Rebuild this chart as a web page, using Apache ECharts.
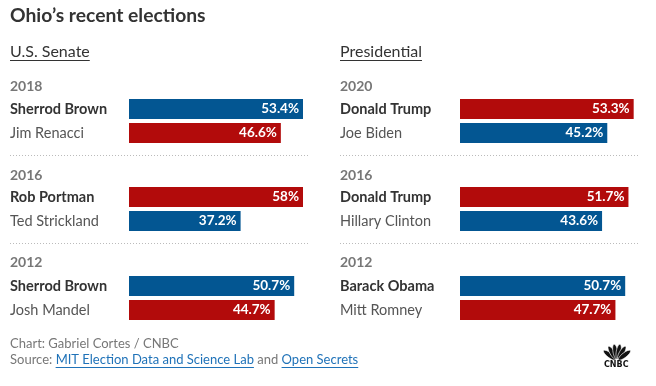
<!DOCTYPE html>
<html>
<head>
<meta charset="utf-8">
<script src="https://cdn.jsdelivr.net/npm/echarts@6/dist/echarts.min.js"></script>
<style>html,body{margin:0;padding:0;background:#fff;}#c{width:656px;height:386px;}</style>
</head>
<body>
<div id="c"></div>
<script>
const senateYears = ['2018', '2016', '2012'];
const senateWinners = ['Sherrod Brown', 'Rob Portman', 'Sherrod Brown'];
const senateWinnerPct = [53.4, 58, 50.7];
const senateWinnerParty = ['D', 'R', 'D'];
const senateLosers = ['Jim Renacci', 'Ted Strickland', 'Josh Mandel'];
const senateLoserPct = [46.6, 37.2, 44.7];

const presYears = ['2020', '2016', '2012'];
const presWinners = ['Donald Trump', 'Donald Trump', 'Barack Obama'];
const presWinnerPct = [53.3, 51.7, 50.7];
const presWinnerParty = ['R', 'R', 'D'];
const presLosers = ['Joe Biden', 'Hillary Clinton', 'Mitt Romney'];
const presLoserPct = [45.2, 43.6, 47.7];

const FONT = 'Lato, "Noto Sans", sans-serif';
const BLUE = '#035692';
const RED = '#b20b0b';
const partyColor = p => (p === 'D' ? BLUE : RED);
const other = p => (p === 'D' ? 'R' : 'D');

const chart = echarts.init(document.getElementById('c'), null, {renderer: 'canvas'});

const grids = [], xAxes = [], yAxes = [], series = [], graphics = [];
const rowTops = [97, 185, 274];
const yearY = [87, 176, 263];
const panels = [
  {left: 129, textX: 10, years: senateYears, w: senateWinners, wp: senateWinnerPct, party: senateWinnerParty, l: senateLosers, lp: senateLoserPct},
  {left: 460, textX: 340, years: presYears, w: presWinners, wp: presWinnerPct, party: presWinnerParty, l: presLosers, lp: presLoserPct}
];

panels.forEach((p) => {
  p.years.forEach((yr, i) => {
    const idx = grids.length;
    grids.push({left: p.left, top: rowTops[i], width: 174, height: 48, containLabel: false});
    xAxes.push({gridIndex: idx, type: 'value', min: 0, max: Math.max(53.4, p.wp[i]), show: false});
    yAxes.push({
      gridIndex: idx, type: 'category', inverse: true,
      data: [p.w[i], p.l[i]],
      axisLine: {show: false}, axisTick: {show: false},
      axisLabel: {
        align: 'left', margin: p.left - p.textX,
        formatter: (v, k) => k === 0 ? '{w|' + v + '}' : '{l|' + v + '}',
        rich: {
          w: {fontFamily: FONT, fontSize: 14.5, fontWeight: 'bold', color: '#333'},
          l: {fontFamily: FONT, fontSize: 14.5, color: '#555'}
        }
      }
    });
    series.push({
      type: 'bar', xAxisIndex: idx, yAxisIndex: idx, barWidth: 20,
      data: [
        {value: p.wp[i], itemStyle: {color: partyColor(p.party[i])}},
        {value: p.lp[i], itemStyle: {color: partyColor(other(p.party[i]))}}
      ],
      label: {
        show: true, position: 'insideRight', distance: 4,
        formatter: d => d.value + '%',
        fontFamily: FONT, fontSize: 13.5, fontWeight: 'bold', color: '#fff'
      },
      silent: true, animation: false
    });
    graphics.push({
      type: 'text', left: p.textX, top: yearY[i] - 8,
      style: {text: yr, font: 'bold 14px ' + FONT, fill: '#777'}
    });
    if (i < 2) {
      graphics.push({
        type: 'line', shape: {x1: p.textX, y1: rowTops[i] + 58.5, x2: p.textX + 299, y2: rowTops[i] + 58.5},
        style: {stroke: '#bbb', lineWidth: 1, lineDash: [1, 2]}
      });
    }
  });
});

// measure text widths for underlines
const mctx = document.createElement('canvas').getContext('2d');
function tw(text, font) { mctx.font = font; return mctx.measureText(text).width; }

// Title and section heads
graphics.push({type: 'text', left: 10, top: 6, style: {text: 'Ohio\u2019s recent elections', font: 'bold 19.3px ' + FONT, fill: '#333'}});
const headFont = '16px ' + FONT;
[['U.S. Senate', 10], ['Presidential', 340]].forEach(([t, x]) => {
  graphics.push({type: 'text', left: x, top: 44, style: {text: t, font: headFont, fill: '#333'}});
  const w = tw(t, headFont);
  graphics.push({type: 'line', shape: {x1: x, y1: 60.5, x2: x + w, y2: 60.5}, style: {stroke: '#333', lineWidth: 1}});
});

// Footer
const fFont = '13px ' + FONT;
graphics.push({type: 'text', left: 10, top: 337, style: {text: 'Chart: Gabriel Cortes / CNBC', font: fFont, fill: '#777'}});
const parts = [
  ['Source: ', '#777', false],
  ['MIT Election Data and Science Lab', '#1f72b8', true],
  [' and ', '#777', false],
  ['Open Secrets', '#1f72b8', true]
];
let fx = 10;
parts.forEach(([t, c, u]) => {
  graphics.push({type: 'text', left: fx, top: 353, style: {text: t, font: fFont, fill: c}});
  const w = tw(t, fFont);
  if (u) graphics.push({type: 'line', shape: {x1: fx, y1: 367.5, x2: fx + w, y2: 367.5}, style: {stroke: c, lineWidth: 1}});
  fx += w;
});

// CNBC peacock logo (simplified)
const cx = 617, cy = 361;
[-52, -30, -10, 10, 30, 52].forEach(a => {
  graphics.push({
    type: 'ellipse', x: cx, y: cy, rotation: -a * Math.PI / 180,
    shape: {cx: 0, cy: -9.5, rx: 2.4, ry: 7.5},
    style: {fill: '#111', stroke: '#fff', lineWidth: 0.6}
  });
});
graphics.push({type: 'text', left: 604, top: 361, style: {text: 'CNBC', font: 'bold 8px "DejaVu Sans", sans-serif', fill: '#111'}});

chart.setOption({
  animation: false,
  backgroundColor: '#fff',
  grid: grids, xAxis: xAxes, yAxis: yAxes, series: series,
  graphic: graphics
});
</script>
</body>
</html>
